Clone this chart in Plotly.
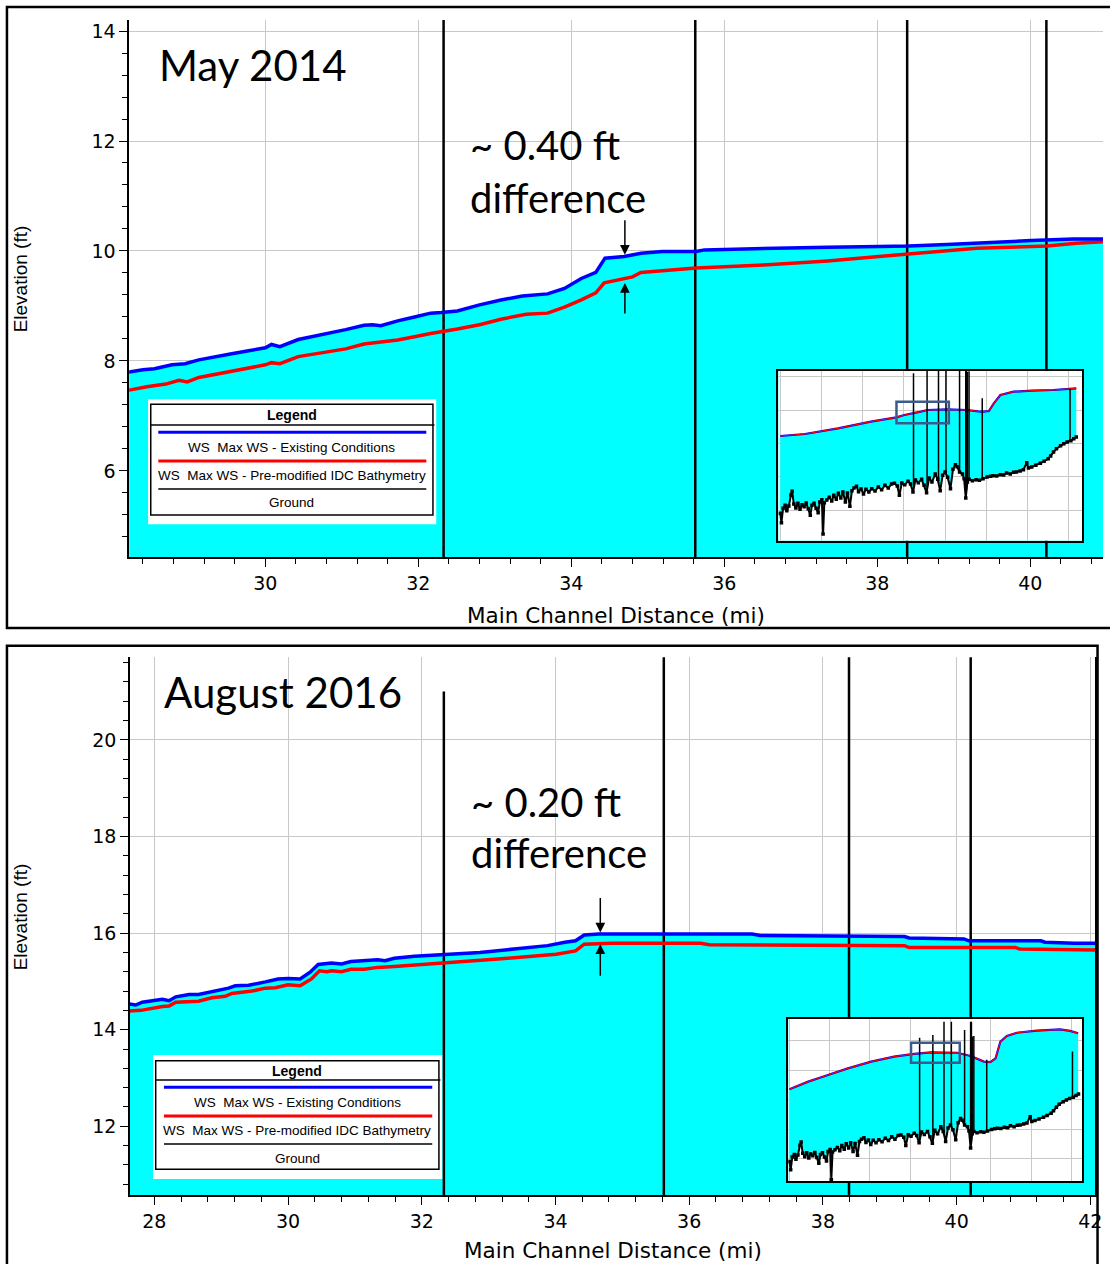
import numpy as np
import plotly.graph_objects as go

W, H = 1110, 1264

# ------------------------------------------------------------------ data
# May 2014 - main profile (river mile, water surface elevation ft)
ws14_exist_mi = [28.10, 28.22, 28.40, 28.55, 28.78, 28.95, 29.13, 29.35, 29.56, 29.80, 30.00, 30.08,
                 30.19, 30.43, 30.65, 30.86, 31.05, 31.29, 31.40, 31.51, 31.73, 31.95, 32.16, 32.30,
                 32.51, 32.80, 33.08, 33.36, 33.69, 33.91, 34.13, 34.32, 34.44, 34.69, 34.91, 35.19,
                 35.63, 35.74, 36.57, 37.35, 38.02, 38.41, 38.91, 39.30, 40.01, 40.57, 41.10]
ws14_exist_ft = [7.79, 7.80, 7.84, 7.86, 7.93, 7.95, 8.02, 8.07, 8.13, 8.19, 8.24, 8.30,
                 8.26, 8.39, 8.45, 8.51, 8.57, 8.65, 8.66, 8.64, 8.73, 8.80, 8.87, 8.88,
                 8.91, 9.02, 9.11, 9.18, 9.22, 9.32, 9.50, 9.61, 9.87, 9.90, 9.96, 9.99,
                 9.99, 10.02, 10.05, 10.07, 10.08, 10.09, 10.12, 10.15, 10.19, 10.22, 10.22]
ws14_pre_mi = [28.10, 28.22, 28.45, 28.70, 28.87, 28.98, 29.13, 29.35, 29.56, 29.80, 30.00, 30.08,
               30.19, 30.43, 30.65, 30.86, 31.05, 31.29, 31.50, 31.73, 31.95, 32.16, 32.51, 32.80,
               33.08, 33.41, 33.69, 33.91, 34.13, 34.32, 34.43, 34.80, 34.91, 35.63, 36.57, 37.35,
               38.02, 38.41, 39.30, 40.22, 40.60, 41.10]
ws14_pre_ft = [7.45, 7.47, 7.53, 7.58, 7.65, 7.62, 7.70, 7.76, 7.82, 7.88, 7.93, 7.97,
               7.95, 8.08, 8.13, 8.17, 8.22, 8.31, 8.34, 8.38, 8.44, 8.50, 8.58, 8.66,
               8.76, 8.85, 8.87, 8.98, 9.11, 9.24, 9.42, 9.53, 9.61, 9.69, 9.75, 9.82,
               9.90, 9.95, 10.05, 10.09, 10.14, 10.18]

# August 2016 - main profile
ws16_exist_mi = [27.50, 27.63, 27.72, 27.82, 28.12, 28.22, 28.32, 28.52, 28.66, 28.91, 29.11, 29.21,
                 29.41, 29.66, 29.85, 30.00, 30.18, 30.33, 30.45, 30.65, 30.80, 30.94, 31.14, 31.34,
                 31.45, 31.59, 31.89, 32.13, 32.53, 32.87, 33.38, 33.88, 34.14, 34.30, 34.43, 34.65,
                 36.94, 37.06, 39.22, 39.29, 40.11, 40.18, 41.26, 41.32, 41.76, 42.20]
ws16_exist_ft = [14.51, 14.53, 14.51, 14.57, 14.63, 14.60, 14.68, 14.73, 14.73, 14.80, 14.86, 14.91,
                 14.92, 14.99, 15.05, 15.06, 15.05, 15.19, 15.35, 15.38, 15.36, 15.41, 15.43, 15.45,
                 15.43, 15.48, 15.52, 15.54, 15.57, 15.60, 15.67, 15.74, 15.81, 15.84, 15.96, 15.98,
                 15.98, 15.95, 15.93, 15.90, 15.88, 15.84, 15.84, 15.81, 15.79, 15.79]
ws16_pre_mi = [27.50, 27.63, 27.80, 28.12, 28.22, 28.32, 28.66, 28.86, 29.06, 29.16, 29.46, 29.66,
               29.81, 30.00, 30.18, 30.35, 30.47, 30.58, 30.65, 30.80, 30.94, 31.14, 31.34, 31.59,
               31.89, 32.13, 32.53, 33.19, 34.01, 34.30, 34.43, 34.84, 36.17, 36.30, 39.22, 39.29,
               40.88, 40.94, 42.20]
ws16_pre_ft = [14.38, 14.39, 14.40, 14.48, 14.49, 14.57, 14.59, 14.66, 14.69, 14.75, 14.80, 14.86,
               14.87, 14.93, 14.91, 15.05, 15.22, 15.20, 15.22, 15.20, 15.25, 15.25, 15.29, 15.31,
               15.34, 15.36, 15.39, 15.47, 15.56, 15.63, 15.77, 15.79, 15.79, 15.76, 15.74, 15.70,
               15.70, 15.67, 15.65]

# Ground profile of the whole reach (inset), river mile / elevation ft
ground_mi = [0.0, 0.3, 0.7, 1.2, 1.6, 2.1, 2.6, 2.9, 3.3, 3.8, 4.3, 4.8, 5.3, 5.8, 6.3, 6.8, 7.3, 7.7,
             8.2, 8.7, 9.2, 9.6, 10.1, 10.4, 10.7, 11.3, 11.9, 12.5, 13.0, 13.6, 14.1, 14.7, 15.2,
             15.8, 16.3, 16.9, 17.4, 17.9, 18.5, 19.0, 19.6, 20.2, 20.8, 21.5, 22.2, 23.0, 23.8,
             24.6, 25.4, 26.2, 27.0, 27.7, 28.4, 28.9, 29.5, 30.2, 31.0, 31.6, 32.2, 32.8, 33.5,
             34.3, 34.9, 35.5, 36.1, 36.8, 37.6, 38.2, 38.8, 39.4, 40.0, 40.6, 41.3, 41.9, 42.5,
             42.9, 43.5, 44.2, 44.6, 45.0, 45.4, 45.8, 46.6, 47.5, 48.3, 49.2, 50.2, 51.0, 51.6,
             52.5, 53.4, 54.2, 54.9, 55.8, 56.6, 57.3, 58.2, 59.0, 59.8, 60.2, 61.0, 62.0, 63.1,
             64.0, 65.0, 65.6, 66.3, 67.0, 68.0, 68.8, 69.6, 70.5, 71.2, 71.8]
ground_ft = [-21.0, -23.8, -19.5, -18.6, -20.2, -18.8, -15.5, -14.4, -18.2, -19.4, -18.0, -19.8,
             -18.4, -19.0, -17.9, -19.6, -21.6, -18.6, -18.0, -19.5, -20.8, -17.6, -16.9, -27.2,
             -17.8, -17.0, -16.2, -17.3, -15.6, -16.8, -15.0, -16.4, -14.6, -17.6, -14.9, -18.9,
             -14.2, -13.4, -12.9, -14.5, -13.7, -15.2, -13.8, -14.6, -13.6, -14.3, -13.1, -13.9,
             -12.6, -13.4, -12.2, -12.0, -12.8, -15.6, -11.9, -12.4, -11.4, -12.2, -14.6, -11.0,
             -11.8, -10.8, -12.6, -14.8, -10.4, -11.6, -9.2, -10.8, -14.2, -9.6, -8.6, -10.2,
             -13.6, -7.8, -6.4, -7.0, -8.6, -9.2, -10.6, -16.4, -11.6, -10.8, -11.2, -10.9,
             -11.1, -10.6, -10.1, -9.9, -9.7, -9.8, -9.4, -9.5, -8.9, -9.2, -8.7, -8.6, -8.3,
             -7.9, -5.8, -7.4, -7.1, -6.6, -6.0, -5.4, -4.6, -3.8, -2.6, -1.6, -0.7, -0.1, 0.4,
             0.8, 1.4, 1.9]

# Whole-reach water surface (insets)
ws14_reach_mi = [0.0, 6.0, 14.0, 22.0, 28.2, 30.1, 34.1, 35.7, 40.5, 45.3, 48.0, 49.3, 50.6, 51.8,
                 53.4, 56.6, 61.0, 66.2, 71.8]
ws14_reach_ft = [2.2, 2.8, 4.5, 6.5, 7.8, 8.5, 9.5, 10.0, 10.2, 10.0, 9.6, 9.5, 9.7, 12.0,
                 14.5, 15.5, 15.8, 16.0, 16.5]
ws16_reach_mi = [0.0, 4.65, 7.9, 14.5, 20.3, 26.0, 31.0, 35.1, 41.7, 45.0, 48.3, 49.9, 51.2, 52.4,
                 54.0, 56.5, 61.4, 67.2, 69.7, 71.3, 71.7]
ws16_reach_ft = [3.5, 6.1, 7.6, 10.6, 12.9, 14.6, 15.5, 16.0, 15.9, 14.8, 12.9, 12.7, 14.0, 19.7,
                 21.6, 22.7, 23.4, 23.8, 23.3, 22.7, 22.5]

# Structures (river mile, top elevation ft)
struct_mi = [32.33, 35.62, 38.39, 40.21, 43.5, 45.0, 45.2, 45.4, 45.8, 49.0, 70.3]
struct_top_ft = [21.0, 21.9, 26.4, 26.4, 23.6, 26.4, 26.4, 21.4, 21.6, 13.5, 16.3]

# Tick labels
x_ticks_14 = [30, 32, 34, 36, 38, 40]
y_ticks_14 = [6, 8, 10, 12, 14]
x_ticks_16 = [28, 30, 32, 34, 36, 38, 40, 42]
y_ticks_16 = [12, 14, 16, 18, 20]

legend_labels = ["WS\u00a0\u00a0Max WS - Existing Conditions",
                 "WS\u00a0\u00a0Max WS - Pre-modified IDC Bathymetry",
                 "Ground"]
panel_titles = ["May 2014", "August 2016"]
diff_labels = ["~ 0.40 ft", "~ 0.20 ft"]

# ------------------------------------------------------------------ helpers
CYAN, BLUE, RED = "#00FFFF", "#0000FF", "#FF0000"
GRID = "#C8C8C8"
AX_FONT = "DejaVu Sans"
LEG_FONT = "Liberation Sans"
ANN_FONT = "Lato"

g_mi = np.array(ground_mi)
g_ft = np.array(ground_ft)


def PX(x):
    return x / W


def PY(y):
    return 1 - y / H


def water_polygon(ws_x, ws_y):
    ws_x = np.asarray(ws_x, float)
    ws_y = np.asarray(ws_y, float)
    lo, hi = ws_x.min(), ws_x.max()
    inside = (g_mi > lo) & (g_mi < hi)
    gx = np.concatenate([[lo], g_mi[inside], [hi]])
    gy = np.interp(gx, g_mi, g_ft)
    return (np.concatenate([ws_x, gx[::-1]]).tolist(),
            np.concatenate([ws_y, gy[::-1]]).tolist())


def structure_segments(lo, hi):
    xs, ys = [], []
    for s, t in zip(struct_mi, struct_top_ft):
        if lo <= s <= hi:
            gb = float(np.interp(s, g_mi, g_ft))
            xs += [s, s, None]
            ys += [gb, t, None]
    return xs, ys


fig = go.Figure()


def add_main(xa, ya, ex_x, ex_y, pre_x, pre_y):
    px_, py_ = water_polygon(ex_x, ex_y)
    fig.add_trace(go.Scatter(x=px_, y=py_, fill="toself", fillcolor=CYAN, mode="lines",
                             line=dict(width=0), xaxis=xa, yaxis=ya, hoverinfo="skip",
                             showlegend=False))
    sx, sy = structure_segments(min(ex_x), max(ex_x))
    fig.add_trace(go.Scatter(x=sx, y=sy, mode="lines", line=dict(color="black", width=2.5),
                             xaxis=xa, yaxis=ya, showlegend=False))
    fig.add_trace(go.Scatter(x=pre_x, y=pre_y, mode="lines", line=dict(color=RED, width=3.5),
                             xaxis=xa, yaxis=ya, name=legend_labels[1], showlegend=False))
    fig.add_trace(go.Scatter(x=ex_x, y=ex_y, mode="lines", line=dict(color=BLUE, width=3.5),
                             xaxis=xa, yaxis=ya, name=legend_labels[0], showlegend=False))


def add_inset(xa, ya, ws_x, ws_y):
    px_, py_ = water_polygon(ws_x, ws_y)
    fig.add_trace(go.Scatter(x=px_, y=py_, fill="toself", fillcolor=CYAN, mode="lines",
                             line=dict(width=0), xaxis=xa, yaxis=ya, hoverinfo="skip",
                             showlegend=False))
    fig.add_trace(go.Scatter(x=ws_x, y=ws_y, mode="lines", line=dict(color=BLUE, width=2.2),
                             xaxis=xa, yaxis=ya, showlegend=False))
    fig.add_trace(go.Scatter(x=ws_x, y=ws_y, mode="lines", line=dict(color=RED, width=1.2),
                             xaxis=xa, yaxis=ya, showlegend=False))
    sx, sy = structure_segments(0, 80)
    fig.add_trace(go.Scatter(x=sx, y=sy, mode="lines", line=dict(color="black", width=1.5),
                             xaxis=xa, yaxis=ya, showlegend=False))
    fig.add_trace(go.Scatter(x=ground_mi, y=ground_ft, mode="lines+markers",
                             line=dict(color="black", width=2),
                             marker=dict(symbol="square", size=3.5, color="black"),
                             xaxis=xa, yaxis=ya, name=legend_labels[2], showlegend=False))


add_main("x", "y", ws14_exist_mi, ws14_exist_ft, ws14_pre_mi, ws14_pre_ft)
add_main("x2", "y2", ws16_exist_mi, ws16_exist_ft, ws16_pre_mi, ws16_pre_ft)
add_inset("x3", "y3", ws14_reach_mi, ws14_reach_ft)
add_inset("x4", "y4", ws16_reach_mi, ws16_reach_ft)


def main_x(domain, rng, ticks, anchor):
    return dict(domain=domain, range=rng, anchor=anchor, tickmode="array", tickvals=ticks,
                ticks="outside", ticklen=8, tickwidth=1.2, tickcolor="black",
                showline=True, linecolor="black", linewidth=1.5, mirror=False,
                showgrid=True, gridcolor=GRID, gridwidth=1, zeroline=False,
                tickfont=dict(family=AX_FONT, size=19, color="black"),
                minor=dict(tickmode="linear", tick0=0, dtick=0.4, ticks="outside", ticklen=5,
                           tickcolor="black", tickwidth=1, showgrid=False))


def inset_ax(domain, rng, anchor):
    return dict(domain=domain, range=rng, anchor=anchor, tickmode="linear", tick0=0, dtick=10,
                showticklabels=False, ticks="", showline=True, mirror=True,
                linecolor="black", linewidth=2, showgrid=True, gridcolor=GRID, gridwidth=1,
                zeroline=False)


top_x_dom = [PX(130), PX(1110)]
top_y_dom = [PY(557), PY(20)]
bot_x_dom = [PX(130.7), PX(1102)]
bot_y_dom = [PY(1195.3), PY(657.3)]

fig.update_layout(
    width=W, height=H, margin=dict(l=0, r=0, t=0, b=0),
    paper_bgcolor="white", plot_bgcolor="white", showlegend=False,
    font=dict(family=AX_FONT, color="black"),
    xaxis=main_x(top_x_dom, [28.22, 40.95], x_ticks_14, "y"),
    yaxis=main_x(top_y_dom, [4.436, 14.2], y_ticks_14, "x"),
    xaxis2=main_x(bot_x_dom, [27.634, 42.07], x_ticks_16, "y2"),
    yaxis2=main_x(bot_y_dom, [10.571, 21.71], y_ticks_16, "x2"),
    xaxis3=inset_ax([PX(783.3), PX(1089.3)], [-0.45, 73.3], "y3"),
    yaxis3=inset_ax([PY(540.7), PY(371)], [-29.2, 21.7], "x3"),
    xaxis4=inset_ax([PX(793.3), PX(1089)], [-0.29, 72.7], "y4"),
    yaxis4=inset_ax([PY(1181), PY(1019)], [-27.6, 27.35], "x4"),
)
fig.layout.yaxis2.mirror = True

shapes = []
annotations = []

# panel borders
shapes.append(dict(type="rect", xref="paper", yref="paper", x0=PX(7), x1=PX(1125),
                   y0=PY(628), y1=PY(7), line=dict(color="black", width=2.5)))
shapes.append(dict(type="rect", xref="paper", yref="paper", x0=PX(7), x1=PX(1104.5),
                   y0=PY(1290), y1=PY(645.7), line=dict(color="black", width=2.5)))

# inset highlight rectangles (extent of main plots)
shapes.append(dict(type="rect", xref="x3", yref="y3", x0=28.2, x1=40.9, y0=6.0, y1=12.5,
                   line=dict(color="#3D5A8C", width=2.5)))
shapes.append(dict(type="rect", xref="x4", yref="y4", x0=30.2, x1=42.3, y0=12.5, y1=19.3,
                   line=dict(color="#3D5A8C", width=2.5)))


def add_legend(outer, inner, div_y, title_y, line_x, rows):
    ox0, oy0, ox1, oy1 = outer
    ix0, iy0, ix1, iy1 = inner
    shapes.append(dict(type="rect", xref="paper", yref="paper", x0=PX(ox0), x1=PX(ox1),
                       y0=PY(oy1), y1=PY(oy0), fillcolor="white", line=dict(width=0)))
    shapes.append(dict(type="rect", xref="paper", yref="paper", x0=PX(ix0), x1=PX(ix1),
                       y0=PY(iy1), y1=PY(iy0), line=dict(color="black", width=1.5)))
    shapes.append(dict(type="line", xref="paper", yref="paper", x0=PX(ix0), x1=PX(ix1 + 1.5),
                       y0=PY(div_y), y1=PY(div_y), line=dict(color="black", width=1.5)))
    cx = (ix0 + ix1) / 2
    annotations.append(dict(xref="paper", yref="paper", x=PX(cx), y=PY(title_y), text="<b>Legend</b>",
                            showarrow=False, xanchor="center", yanchor="middle",
                            font=dict(family=LEG_FONT, size=14, color="black")))
    for (ly, col, lw, label, ty) in rows:
        shapes.append(dict(type="line", xref="paper", yref="paper", x0=PX(line_x[0]),
                           x1=PX(line_x[1]), y0=PY(ly), y1=PY(ly), line=dict(color=col, width=lw)))
        annotations.append(dict(xref="paper", yref="paper", x=PX(cx), y=PY(ty), text=label,
                                showarrow=False, xanchor="center", yanchor="middle",
                                font=dict(family=LEG_FONT, size=13.5, color="black")))


add_legend((149, 399.3, 439, 524.3), (151.7, 404.3, 435.7, 515), 425, 414.7, (159.3, 429),
           [(432.3, BLUE, 3, legend_labels[0], 447.5),
            (461, RED, 3, legend_labels[1], 475.5),
            (489, "#404040", 2, legend_labels[2], 502)])
add_legend((154, 1055, 445, 1179), (156.7, 1060.7, 441.7, 1169.3), 1080, 1070.5, (165, 435),
           [(1087.3, BLUE, 3, legend_labels[0], 1102.8),
            (1116, RED, 3, legend_labels[1], 1130),
            (1144, "#404040", 2, legend_labels[2], 1158)])

# axis titles
for cx, cy in [(620, 616), (617, 1250)]:
    annotations.append(dict(xref="paper", yref="paper", x=PX(cx), y=PY(cy),
                            text="Main Channel Distance (mi)", showarrow=False,
                            xanchor="center", yanchor="middle",
                            font=dict(family=AX_FONT, size=21.5, color="black")))
for cy in [278.5, 916.5]:
    annotations.append(dict(xref="paper", yref="paper", x=PX(21), y=PY(cy),
                            text="Elevation (ft)", showarrow=False, textangle=-90,
                            xanchor="center", yanchor="middle",
                            font=dict(family=LEG_FONT, size=19, color="black")))

# panel titles & difference notes
for (tx, ty), t in zip([(158, 65), (163, 692)], panel_titles):
    annotations.append(dict(xref="paper", yref="paper", x=PX(tx), y=PY(ty), text=t,
                            showarrow=False, xanchor="left", yanchor="middle",
                            font=dict(family=ANN_FONT, size=42, color="black")))
for (tx, ty1, ty2), t in zip([(471, 145, 198), (472, 802, 853)], diff_labels):
    annotations.append(dict(xref="paper", yref="paper", x=PX(tx), y=PY(ty1), text=t,
                            showarrow=False, xanchor="left", yanchor="middle",
                            font=dict(family=ANN_FONT, size=40, color="black")))
    annotations.append(dict(xref="paper", yref="paper", x=PX(tx), y=PY(ty2), text="difference",
                            showarrow=False, xanchor="left", yanchor="middle",
                            font=dict(family=ANN_FONT, size=40, color="black")))

# arrows marking the difference
for xr, yr, x, ytip, ay in [("x", "y", 34.70, 9.93, -36), ("x", "y", 34.70, 9.42, 32),
                            ("x2", "y2", 34.67, 16.01, -36), ("x2", "y2", 34.67, 15.77, 33)]:
    annotations.append(dict(xref=xr, yref=yr, x=x, y=ytip, ax=0, ay=ay, text="",
                            showarrow=True, arrowhead=2, arrowsize=1.3, arrowwidth=1.5,
                            arrowcolor="black"))

fig.update_layout(shapes=shapes, annotations=annotations)
fig.write_html("out.html")
